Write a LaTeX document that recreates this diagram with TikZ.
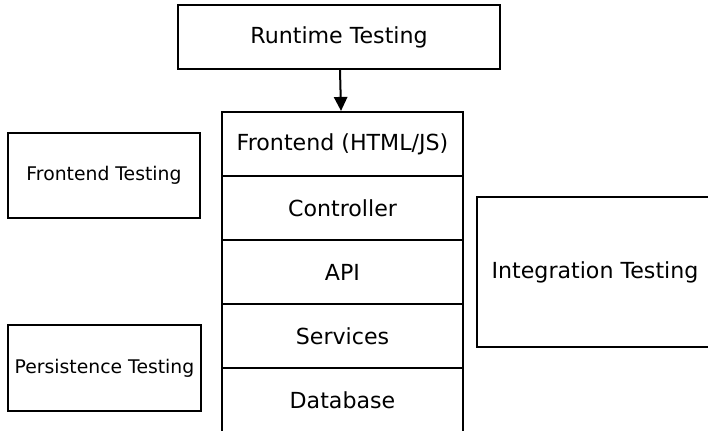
\documentclass[tikz,border=0pt]{standalone}
\usepackage{fontspec}
\setmainfont{DejaVu Sans}
\usetikzlibrary{arrows.meta}
\begin{document}
\begin{tikzpicture}[x=0.75pt,y=-0.75pt,
  box/.style={draw=black,line width=1.6pt,fill=white,inner sep=0pt,
    align=center,font=\fontsize{16.6}{19}\selectfont},
  small/.style={font=\fontsize{14.1}{16}\selectfont},
  layer/.style={box,minimum width=180.75pt,minimum height=48pt},
  link/.style={line width=1.5pt,-{Triangle[width=10pt,length=10.5pt]}}]
\useasboundingbox (0,0) rectangle (708,431);
\clip (0,0) rectangle (708,431);
% tiers of the application stack
\node[layer] (fe)  at (342.5,144) {Frontend (HTML/JS)};
\node[layer] (ctl) at (342.5,208) {Controller};
\node[layer] (api) at (342.5,272) {API};
\node[layer] (svc) at (342.5,336) {Services};
\node[layer] (db)  at (342.5,400) {Database};
% testing scopes
\node[box,minimum width=241.5pt,minimum height=48pt] (rt) at (339,37) {Runtime Testing};
\node[box,small,minimum width=144pt,minimum height=63.75pt] (ft) at (104,175.5) {Frontend Testing};
\node[box,small,minimum width=144.75pt,minimum height=64.5pt] (pt) at (104.5,368) {Persistence Testing};
\node[box,minimum width=177pt,minimum height=112.5pt] (it) at (595,272) {Integration Testing};
% runtime tests drive the frontend
\draw[link] ([xshift=0.75pt]rt.south) -- ([xshift=-1.1pt]fe.north);
\end{tikzpicture}
\end{document}
